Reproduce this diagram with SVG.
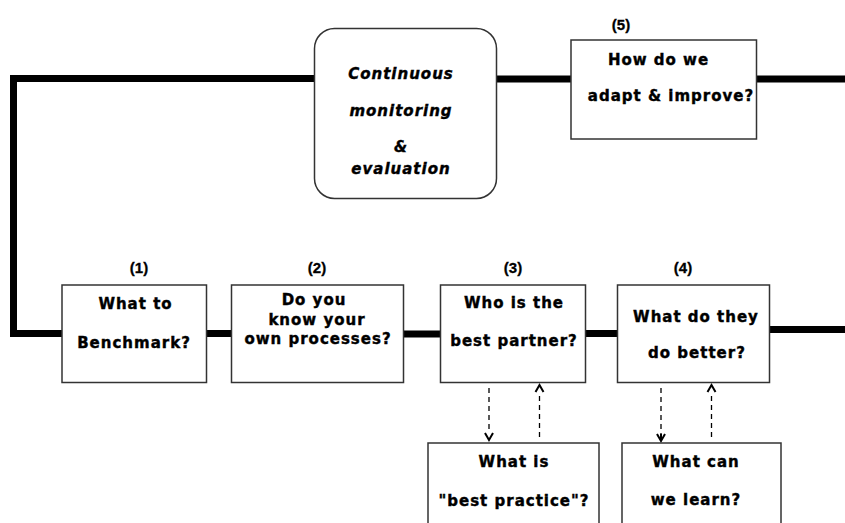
<svg xmlns="http://www.w3.org/2000/svg" width="845" height="523" viewBox="0 0 845 523">
<defs>
<style>
.box{fill:#fff;stroke:#333;stroke-width:1.5}
.t{font-family:"DejaVu Sans",sans-serif;font-weight:bold;font-size:15px;letter-spacing:1px;text-anchor:middle;fill:#000;stroke:#000;stroke-width:0.4}
.i{font-style:italic}
.n{font-family:"Liberation Sans",Arial,sans-serif;font-weight:bold;font-size:15px;text-anchor:middle;fill:#000;stroke:#000;stroke-width:0.3}
.thick{fill:none;stroke:#000;stroke-width:7;stroke-linejoin:miter;stroke-linecap:butt}
.dash{fill:none;stroke:#000;stroke-width:1.3;stroke-dasharray:5 4}
.head{fill:none;stroke:#000;stroke-width:2}
</style>
</defs>
<rect width="845" height="523" fill="#fff"/>
<g id="connectors">
<path class="thick" d="M62,333.5 H13.5 V78.5 H315"/>
<path class="thick" d="M496,79 H571.5"/>
<path class="thick" d="M756,79 H845"/>
<path class="thick" d="M206,333.5 H232"/>
<path class="thick" d="M400,334 H444"/>
<path class="thick" d="M585,333.5 H618"/>
<path class="thick" d="M766,329.5 H845"/>
<path class="dash" d="M489,388 V432"/>
<path class="head" d="M485,433 L489,440 L493,433"/>
<path class="dash" d="M539.5,437 V392"/>
<path class="head" d="M535.5,392 L539.5,385 L543.5,392"/>
<path class="dash" d="M661,388 V434"/>
<path class="head" d="M657,434 L661,441 L665,434 M661,434 V441"/>
<path class="dash" d="M711.5,437 V392"/>
<path class="head" d="M707.5,392 L711.5,385 L715.5,392"/>
</g>
<g id="monitor">
<rect class="box" x="314.5" y="28.5" width="182" height="170" rx="20" ry="20"/>
<text class="t i" x="401" y="79">Continuous</text>
<text class="t i" x="401" y="116">monitoring</text>
<text class="t i" x="401" y="152">&amp;</text>
<text class="t i" x="401" y="174">evaluation</text>
</g>
<g id="n5">
<rect class="box" x="571" y="40" width="185.5" height="99"/>
<text class="n" x="621" y="30">(5)</text>
<text class="t" x="658.5" y="65">How do we</text>
<text class="t" x="671" y="101">adapt &amp; improve?</text>
</g>
<g id="n1">
<rect class="box" x="62" y="285" width="144.5" height="97.5"/>
<text class="n" x="139" y="273">(1)</text>
<text class="t" x="135.5" y="309">What to</text>
<text class="t" x="134" y="348">Benchmark?</text>
</g>
<g id="n2">
<rect class="box" x="231.5" y="285" width="172" height="97.5"/>
<text class="n" x="317" y="273">(2)</text>
<text class="t" x="314" y="305">Do you</text>
<text class="t" x="317" y="325">know your</text>
<text class="t" x="318" y="344">own processes?</text>
</g>
<g id="n3">
<rect class="box" x="440.5" y="285" width="145" height="97.5"/>
<text class="n" x="513" y="273">(3)</text>
<text class="t" x="514" y="308">Who is the</text>
<text class="t" x="514" y="346">best partner?</text>
</g>
<g id="n4">
<rect class="box" x="617.5" y="285" width="152" height="97.5"/>
<text class="n" x="683" y="273">(4)</text>
<text class="t" x="696" y="322">What do they</text>
<text class="t" x="697" y="358">do better?</text>
</g>
<g id="n6">
<rect class="box" x="428" y="443" width="171" height="100"/>
<text class="t" x="514" y="467">What is</text>
<text class="t" x="514" y="506">"best practice"?</text>
</g>
<g id="n7">
<rect class="box" x="622" y="443" width="159" height="100"/>
<text class="t" x="696" y="467">What can</text>
<text class="t" x="696" y="505">we learn?</text>
</g>
</svg>
